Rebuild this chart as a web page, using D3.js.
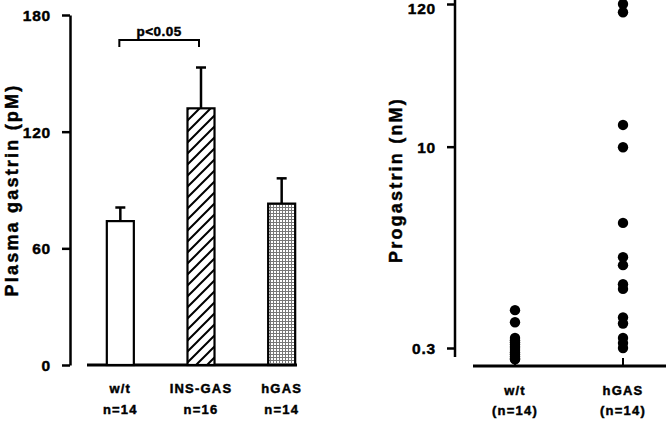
<!DOCTYPE html>
<html><head><meta charset="utf-8">
<script src="https://cdn.jsdelivr.net/npm/d3@7"></script>
<style>
body{margin:0;background:#fff;}
text{font-family:"Liberation Sans",Arial,sans-serif;font-weight:bold;fill:#000;stroke:#000;stroke-width:0.45px;}
</style></head>
<body><svg id="c" width="666" height="432"></svg>
<script>
// Left panel data
const barCategories = ["w/t", "INS-GAS", "hGAS"];
const barN = ["n=14", "n=16", "n=14"];
const barMeans = [74, 132, 83];
const barErrTop = [81, 153, 96];
const leftTicks = [0, 60, 120, 180];
// Right panel data
const dotCategories = ["w/t", "hGAS"];
const dotN = ["(n=14)", "(n=14)"];
const wtValues = [0.58, 0.47, 0.357, 0.344, 0.331, 0.319, 0.307, 0.30, 0.29, 0.279, 0.269, 0.259, 0.25, 0.246];
const hgasValues = [120, 104, 14.6, 9.9, 2.65, 1.46, 1.27, 0.91, 0.84, 0.51, 0.46, 0.357, 0.327, 0.30];
const rightTicks = [0.3, 10, 120];
const rightTickLabels = ["0.3", "10", "120"];

const svg = d3.select("#c");
const defs = svg.append("defs");
const hatch = defs.append("pattern").attr("id","hatch").attr("patternUnits","userSpaceOnUse")
  .attr("width",11).attr("height",11);
hatch.append("rect").attr("width",11).attr("height",11).attr("fill","#fff");
hatch.append("path").attr("d","M-1,12 L12,-1 M-3,3 L3,-3 M8,14 L14,8").attr("stroke","#000").attr("stroke-width",2);
const grid = defs.append("pattern").attr("id","grid").attr("patternUnits","userSpaceOnUse")
  .attr("width",3).attr("height",3);
grid.append("rect").attr("width",3).attr("height",3).attr("fill","#fff");
grid.append("rect").attr("width",3).attr("height",1).attr("fill","#777");
grid.append("rect").attr("width",1).attr("height",3).attr("fill","#777");

// ---- Left panel
const y = d3.scaleLinear().domain([0,180]).range([365,15]);
const x = d3.scaleBand().domain(barCategories).range([80,322]).paddingInner(0.665).paddingOuter(0.3325);
const fills = ["#fff","url(#hatch)","url(#grid)"];

const ax = svg.append("g").attr("transform","translate(70,0)")
  .call(d3.axisLeft(y).tickValues(leftTicks).tickSize(8).tickSizeOuter(0).tickPadding(11));
ax.select(".domain").attr("stroke-width",2.5);
ax.selectAll(".tick line").attr("stroke-width",2.5);
ax.selectAll(".tick text").style("font-size","15.5px").style("letter-spacing","0.8px").attr("dy","0.35em");

svg.append("line").attr("x1",87).attr("x2",297).attr("y1",y(0)).attr("y2",y(0))
  .attr("stroke","#000").attr("stroke-width",3);

barCategories.forEach((c,i)=>{
  const cx = x(c) + x.bandwidth()/2;
  svg.append("line").attr("x1",cx).attr("x2",cx).attr("y1",y(barMeans[i])).attr("y2",y(barErrTop[i]))
    .attr("stroke","#000").attr("stroke-width",2.5);
  svg.append("line").attr("x1",cx-5).attr("x2",cx+5).attr("y1",y(barErrTop[i])).attr("y2",y(barErrTop[i]))
    .attr("stroke","#000").attr("stroke-width",2.5);
  svg.append("rect").attr("x",x(c)).attr("y",y(barMeans[i])).attr("width",x.bandwidth())
    .attr("height",y(0)-y(barMeans[i])).attr("fill",fills[i]).attr("stroke","#000").attr("stroke-width",2.2);
  svg.append("text").attr("x",cx).attr("y",393).attr("text-anchor","middle")
    .style("font-size","13px").style("letter-spacing","1.2px").text(c);
  svg.append("text").attr("x",cx).attr("y",414).attr("text-anchor","middle")
    .style("font-size","13px").style("letter-spacing","1.2px").text(barN[i]);
});

// significance bracket
const bx1 = x("w/t") + x.bandwidth()/2 - 1, bx2 = x("INS-GAS") + x.bandwidth()/2 - 2;
svg.append("path").attr("d",`M${bx1},47 L${bx1},40 L${bx2},40 L${bx2},47`)
  .attr("fill","none").attr("stroke","#000").attr("stroke-width",2);
svg.append("text").attr("x",(bx1+bx2)/2).attr("y",36).attr("text-anchor","middle")
  .style("font-size","13.5px").style("letter-spacing","0.5px").text("p<0.05");

svg.append("text").attr("transform","translate(18,190) rotate(-90)").attr("text-anchor","middle")
  .style("font-size","18px").style("letter-spacing","2.2px").text("Plasma gastrin (pM)");

// ---- Right panel
const yr = d3.scaleLog().domain([0.3,120]).range([348,4]);
const xr = d3.scalePoint().domain(dotCategories).range([515,623]);

const axr = svg.append("g").attr("transform","translate(455,0)")
  .call(d3.axisLeft(yr).tickValues(rightTicks).tickFormat((d,i)=>rightTickLabels[i]).tickSize(8).tickSizeOuter(0).tickPadding(11));
axr.select(".domain").remove();
axr.selectAll(".tick line").attr("stroke-width",2.5);
axr.selectAll(".tick text").style("font-size","15.5px").style("letter-spacing","0.8px")
  .attr("dy",d=>d===120 ? "0.62em" : "0.35em");
svg.append("line").attr("x1",455).attr("x2",455).attr("y1",0).attr("y2",357)
  .attr("stroke","#000").attr("stroke-width",2.5);

svg.append("line").attr("x1",473).attr("x2",666).attr("y1",366).attr("y2",366)
  .attr("stroke","#000").attr("stroke-width",3);
dotCategories.forEach(c=>{
  svg.append("line").attr("x1",xr(c)).attr("x2",xr(c)).attr("y1",358).attr("y2",366)
    .attr("stroke","#000").attr("stroke-width",2);
});

svg.append("g").selectAll("circle").data(wtValues).join("circle")
  .attr("cx",xr("w/t")).attr("cy",d=>yr(d)).attr("r",5.2).attr("fill","#000");
svg.append("g").selectAll("circle").data(hgasValues).join("circle")
  .attr("cx",xr("hGAS")).attr("cy",d=>yr(d)).attr("r",5.2).attr("fill","#000");

dotCategories.forEach((c,i)=>{
  svg.append("text").attr("x",xr(c)).attr("y",395).attr("text-anchor","middle")
    .style("font-size","13px").style("letter-spacing","1.2px").text(c);
  svg.append("text").attr("x",xr(c)).attr("y",415).attr("text-anchor","middle")
    .style("font-size","13px").style("letter-spacing","1.2px").text(dotN[i]);
});

svg.append("text").attr("transform","translate(402,180) rotate(-90)").attr("text-anchor","middle")
  .style("font-size","18px").style("letter-spacing","2.2px").text("Progastrin (nM)");
</script></body></html>
